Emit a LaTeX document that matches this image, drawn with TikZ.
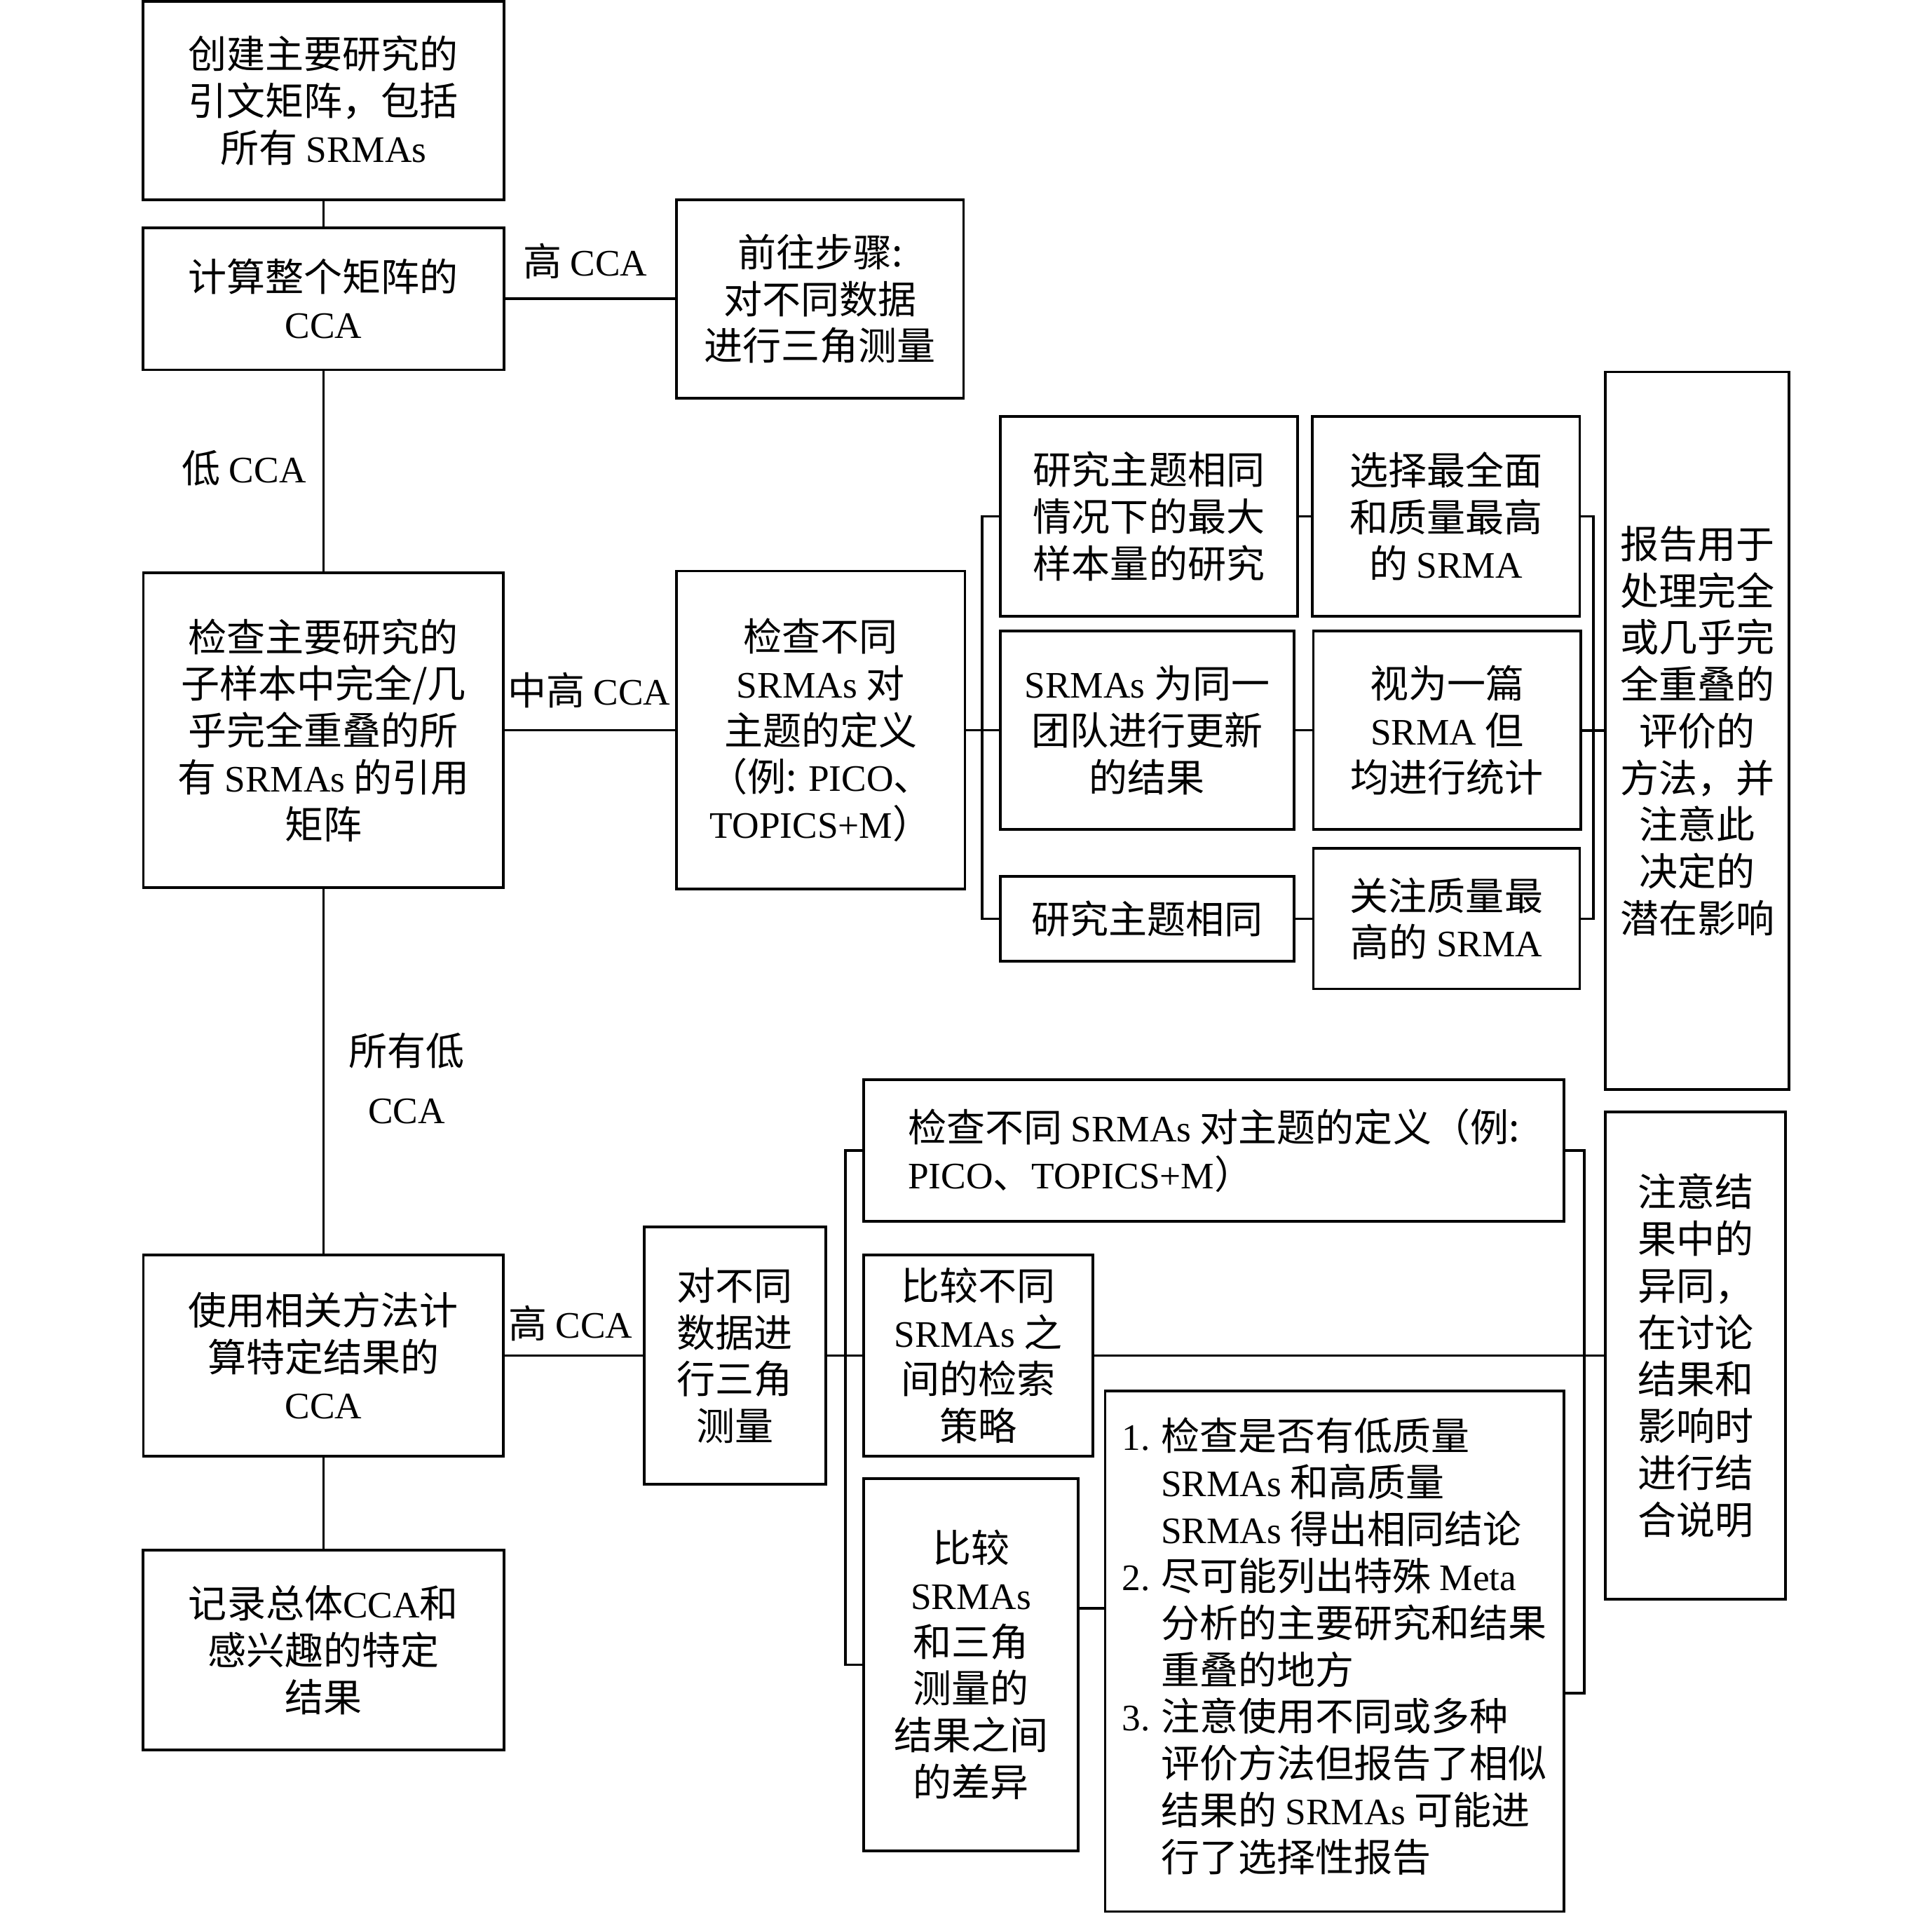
\documentclass[tikz,border=0pt]{standalone}
\usepackage{fontspec}
\setmainfont{Noto Sans CJK SC}
\newfontfamily\enfont[Scale=0.97]{Liberation Serif}
\newcommand{\enf}[1]{{\enfont #1}}

\begin{document}
\begin{tikzpicture}[x=0.01cm, y=-0.01cm, line width=0.6pt,
    every node/.style={font=\fontsize{8.9}{10.8}\selectfont},
    box/.style={draw, rectangle, align=center, inner sep=0pt},
    lbl/.style={align=center, inner sep=0pt}]
    \useasboundingbox (0,0) rectangle (1568,1553);

    % Colonne de gauche
    \node[box, minimum width=2.93cm, minimum height=1.61cm] (creer) at (262.5,81.5) {创建主要研究的\\引文矩阵，包括\\所有 \enf{SRMAs}};
    \node[box, minimum width=2.93cm, minimum height=1.15cm] (calcul) at (262.5,242.5) {计算整个矩阵的\\\enf{CCA}};
    \node[box, minimum width=2.92cm, minimum height=2.55cm] (verif) at (262.5,592.5) {检查主要研究的\\子样本中完全/几\\乎完全重叠的所\\有 \enf{SRMAs} 的引用\\矩阵};
    \node[box, minimum width=2.92cm, minimum height=1.63cm] (calcul2) at (262.5,1100) {使用相关方法计\\算特定结果的\\\enf{CCA}};
    \node[box, minimum width=2.93cm, minimum height=1.62cm] (noter) at (262.5,1339) {记录总体\enf{CCA}和\\感兴趣的特定\\结果};

    % Etiquettes des liens
    \node[lbl] (lbhaut) at (475,212) {高 \enf{CCA}};
    \node[lbl] (lbbas) at (198,380) {低 \enf{CCA}};
    \node[lbl] (lbmoyen) at (478,560) {中高 \enf{CCA}};
    \node[lbl] (lbtous) at (330,875) {所有低\\[2.6pt]\enf{CCA}};
    \node[lbl] (lbhaut2) at (463,1074) {高 \enf{CCA}};

    % Branche haute
    \node[box, minimum width=2.33cm, minimum height=1.61cm] (trianga) at (665.5,242.5) {前往步骤:\\对不同数据\\进行三角测量};
    \node[box, minimum width=2.34cm, minimum height=2.58cm] (defin) at (666,592.5) {检查不同\\\enf{SRMAs} 对\\主题的定义\\（例: \enf{PICO}、\\\enf{TOPICS+M}）};
    \node[box, minimum width=2.41cm, minimum height=1.62cm] (sujet) at (932.5,419) {研究主题相同\\情况下的最大\\样本量的研究};
    \node[box, minimum width=2.38cm, minimum height=1.61cm] (equipe) at (931,592.5) {\enf{SRMAs} 为同一\\团队进行更新\\的结果};
    \node[box, minimum width=2.38cm, minimum height=0.69cm] (sujet2) at (931,745.5) {研究主题相同};
    \node[box, minimum width=2.17cm, minimum height=1.62cm] (choix) at (1173.5,419) {选择最全面\\和质量最高\\的 \enf{SRMA}};
    \node[box, minimum width=2.17cm, minimum height=1.61cm] (unique) at (1174.5,592.5) {视为一篇\\\enf{SRMA} 但\\均进行统计};
    \node[box, minimum width=2.16cm, minimum height=1.14cm] (qualite) at (1174,745.5) {关注质量最\\高的 \enf{SRMA}};
    \node[box, minimum width=1.49cm, minimum height=5.82cm] (rapport) at (1377.5,593) {报告用于\\处理完全\\或几乎完\\全重叠的\\评价的\\方法，并\\注意此\\决定的\\潜在影响};

    % Branche basse
    \node[box, minimum width=1.47cm, minimum height=2.09cm] (triangb) at (596.5,1100) {对不同\\数据进\\行三角\\测量};
    \node[box, align=left, minimum width=5.68cm, minimum height=1.15cm] (defin2) at (985,933.5) {检查不同 \enf{SRMAs} 对主题的定义（例:\\\enf{PICO}、\enf{TOPICS+M}）};
    \node[box, minimum width=1.86cm, minimum height=1.63cm] (strat) at (794,1100) {比较不同\\\enf{SRMAs} 之\\间的检索\\策略};
    \node[box, minimum width=1.74cm, minimum height=3.02cm] (diff) at (788,1351) {比较\\\enf{SRMAs}\\和三角\\测量的\\结果之间\\的差异};
    \node[box, minimum width=3.72cm, minimum height=4.22cm] (liste) at (1083,1340) {%
        \begin{tabular}{@{}l@{\hspace{2.5pt}}l@{}}
            \enf{1.} & 检查是否有低质量\\
             & \enf{SRMAs} 和高质量\\
             & \enf{SRMAs} 得出相同结论\\
            \enf{2.} & 尽可能列出特殊 \enf{Meta}\\
             & 分析的主要研究和结果\\
             & 重叠的地方\\
            \enf{3.} & 注意使用不同或多种\\
             & 评价方法但报告了相似\\
             & 结果的 \enf{SRMAs} 可能进\\
             & 行了选择性报告
        \end{tabular}};
    \node[box, minimum width=1.46cm, minimum height=3.95cm] (notez) at (1376,1100) {注意结\\果中的\\异同，\\在讨论\\结果和\\影响时\\进行结\\合说明};

    % Liens colonne de gauche
    \draw (creer) -- (calcul);
    \draw (calcul) -- (trianga);
    \draw (calcul) -- (verif);
    \draw (verif) -- (defin);
    \draw (verif) -- (calcul2);
    \draw (calcul2) -- (noter);
    \draw (calcul2) -- (triangb);

    % Crochets haut
    \coordinate (cr1) at (797,592.5);
    \draw (defin) -- (cr1);
    \draw (sujet.west) -| (cr1) |- (sujet2.west);
    \draw (cr1) -- (equipe.west);
    \draw (sujet) -- (choix);
    \draw (equipe) -- (unique);
    \draw (sujet2) -- (qualite);
    \coordinate (cr2) at (1293,592.5);
    \draw (choix.east) -| (cr2) |- (qualite.east);
    \draw (unique) -- (rapport);

    % Crochets bas
    \coordinate (cr3) at (686,1100);
    \draw (triangb) -- (cr3);
    \draw (defin2.west) -| (cr3) |- (diff.west);
    \draw (cr3) -- (strat.west);
    \draw (strat) -- (notez);
    \coordinate (cr4) at (1286,1374);
    \draw (defin2.east) -| (cr4) -- (liste.east |- cr4);
    \coordinate (cr5) at (886,1305);
    \draw (diff.east |- cr5) -- (liste.west |- cr5);
\end{tikzpicture}
\end{document}
